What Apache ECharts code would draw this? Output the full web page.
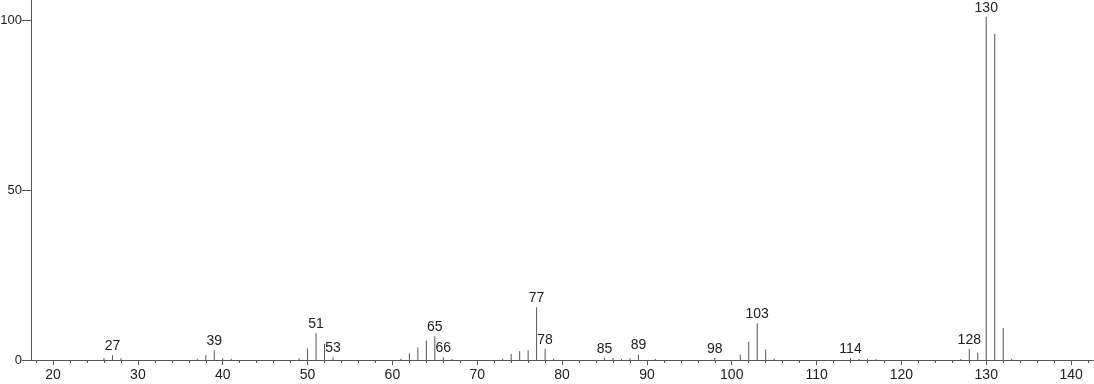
<!DOCTYPE html>
<html>
<head>
<meta charset="utf-8">
<script src="https://cdn.jsdelivr.net/npm/echarts@6/dist/echarts.min.js"></script>
<style>
html,body{margin:0;padding:0;background:#fff;}
#c{width:1094px;height:384px;}
</style>
</head>
<body>
<div id="c"></div>
<script>
// m/z values of the peaks
var mz = [26,27,28,37,38,39,40,41,49,50,51,52,53,61,62,63,64,65,66,67,73,74,75,76,77,78,79,85,86,87,88,89,91,98,101,102,103,104,105,114,115,116,117,127,128,129,130,131,132,133];
// relative intensities
var intensity = [0.6,1.4,0.5,0.4,1.4,2.9,0.5,0.4,0.5,3.4,7.9,4.7,0.8,0.4,2.0,3.7,5.7,7.0,0.8,0.3,0.4,1.8,2.6,2.9,15.5,3.3,0.4,0.6,0.6,0.3,0.5,1.6,0.3,0.6,1.6,5.4,10.8,3.1,0.4,0.5,0.3,0.3,0.3,0.3,3.2,2.1,101,95.9,9.4,0.4];
// peaks that carry a label
var labeledPeaks = [27,39,51,53,65,66,77,78,85,89,98,103,114,128,130];
// axis ticks
var xMajorTicks = [20,30,40,50,60,70,80,90,100,110,120,130,140];
var xMinorTicks = [18,22,24,26,28,32,34,36,38,42,44,46,48,52,54,56,58,62,64,66,68,72,74,76,78,82,84,86,88,92,94,96,98,102,104,106,108,112,114,116,118,122,124,126,128,132,134,136,138,142];
var yTicks = [0,50,100];

var data = mz.map(function(m,i){
  var item = {value:[m,intensity[i]]};
  if (labeledPeaks.indexOf(m) >= 0) {
    item.label = {show:true};
  }
  return item;
});

var chart = echarts.init(document.getElementById('c'));
var font = 'Liberation Sans, Arial, sans-serif';
chart.setOption({
  animation:false,
  grid:{left:31,right:0,top:0,bottom:24,containLabel:false,outerBoundsMode:'none'},
  xAxis:[{
    type:'value', min:17.4, max:142.7,
    axisLine:{show:true,lineStyle:{color:'#555',width:1}},
    axisTick:{show:true,length:5,lineStyle:{color:'#555'},customValues:xMajorTicks},
    axisLabel:{show:true,color:'#222',fontSize:14,fontFamily:font,margin:8,customValues:xMajorTicks},
    splitLine:{show:false}
  },{
    type:'value', min:17.4, max:142.7, position:'bottom',
    axisLine:{show:false},
    axisTick:{show:true,length:3,lineStyle:{color:'#555'},customValues:xMinorTicks},
    axisLabel:{show:false},
    splitLine:{show:false}
  }],
  yAxis:{
    type:'value', min:0, max:105.9, interval:50,
    axisLine:{show:true,lineStyle:{color:'#555',width:1}},
    axisTick:{show:true,length:9,lineStyle:{color:'#555'},customValues:yTicks},
    axisLabel:{show:true,color:'#222',fontSize:13,fontFamily:font,margin:9,customValues:yTicks},
    splitLine:{show:false}
  },
  series:[{
    type:'bar',
    xAxisIndex:0,
    barWidth:1,
    itemStyle:{color:'#555'},
    label:{show:false,position:'top',distance:2,color:'#222',fontSize:14,fontFamily:font,
      formatter:function(p){return String(p.value[0]);}},
    data:data
  }]
});
</script>
</body>
</html>
